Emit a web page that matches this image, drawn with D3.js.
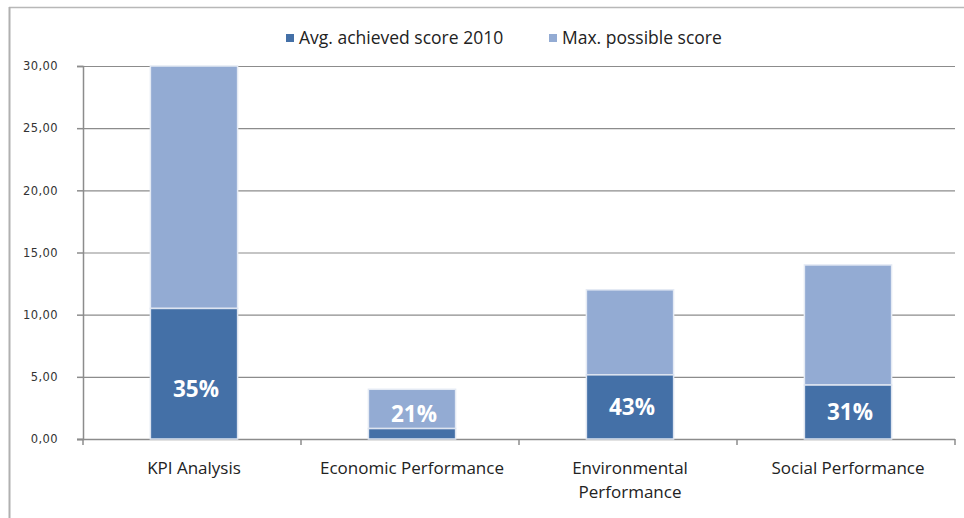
<!doctype html>
<html>
<head>
<meta charset="utf-8">
<script src="https://d3js.org/d3.v7.min.js"></script>
<style>
  body {margin: 0; background: #fff;}
  svg text {font-family: "Open Sans", "Noto Sans", sans-serif;}
</style>
</head>
<body>
<svg width="964" height="518"></svg>
<script>
// data
var categories = ["KPI Analysis", "Economic Performance", "Environmental Performance", "Social Performance"];
var achieved = [10.5, 0.84, 5.16, 4.34];
var maxScore = [30, 4, 12, 14];
var percents = ["35%", "21%", "43%", "31%"];
var yTicks = [0, 5, 10, 15, 20, 25, 30];
var seriesNames = ["Avg. achieved score 2010", "Max. possible score"];

var dark = "#4470a7", light = "#93abd3";
var svg = d3.select("svg");

// outer frame (top and left edges only visible)
svg.append("line").attr("x1", 9).attr("x2", 964).attr("y1", 7.5).attr("y2", 7.5)
   .attr("stroke", "#b8b8b8").attr("stroke-width", 1.5);
svg.append("line").attr("x1", 9.5).attr("x2", 9.5).attr("y1", 7).attr("y2", 518)
   .attr("stroke", "#b0b0b0").attr("stroke-width", 2);

var x = d3.scaleBand().domain(categories).range([85, 957]).paddingInner(0.6).paddingOuter(0.3);
var y = d3.scaleLinear().domain([0, 30]).range([439, 66]);

// gridlines
svg.append("g").selectAll("line").data(yTicks.slice(1)).enter().append("line")
   .attr("x1", 83).attr("x2", 955)
   .attr("y1", function(d) {return y(d) + 0.5}).attr("y2", function(d) {return y(d) + 0.5})
   .attr("stroke", "#8c8c8c").attr("stroke-width", 1.2);

// y axis
var yAxis = svg.append("g").attr("transform", "translate(83,0)")
   .call(d3.axisLeft(y).tickValues(yTicks).tickSize(6).tickPadding(19)
        .tickFormat(function(d) {return d3.format(".2f")(d).replace(".", ",")}));
yAxis.selectAll("path, line").attr("stroke", "#8c8c8c").attr("stroke-width", 1.5);
yAxis.selectAll("text").attr("fill", "#333")
   .style("font-family", "'DejaVu Sans', sans-serif").attr("font-size", 11.5)
   .attr("letter-spacing", 0.4);

// x axis with boundary ticks
var bounds = d3.range(categories.length + 1);
var step = (955 - 83) / categories.length;
svg.append("line").attr("x1", 77).attr("x2", 955).attr("y1", 439.5).attr("y2", 439.5)
   .attr("stroke", "#8c8c8c").attr("stroke-width", 1.5);
svg.append("g").selectAll("line").data(bounds).enter().append("line")
   .attr("x1", function(d) {return 83 + d * step}).attr("x2", function(d) {return 83 + d * step})
   .attr("y1", 439).attr("y2", 445)
   .attr("stroke", "#8c8c8c").attr("stroke-width", 1.5);

// category labels
var catLabels = svg.append("g").selectAll("text").data(categories).enter().append("text")
   .attr("text-anchor", "middle").attr("font-size", 17).attr("fill", "#222")
   .attr("transform", function(d) {return "translate(" + (x(d) + x.bandwidth() / 2) + ",474)"});
catLabels.each(function(d) {
  var lines = d === "Environmental Performance" ? ["Environmental", "Performance"] : [d];
  d3.select(this).selectAll("tspan").data(lines).enter().append("tspan")
    .attr("x", 0).attr("dy", function(l, i) {return i ? 24 : 0}).text(function(l) {return l});
});

// bars
var bars = svg.append("g").selectAll("g").data(categories).enter().append("g");
bars.append("rect")
   .attr("x", function(d) {return x(d)}).attr("width", x.bandwidth())
   .attr("y", function(d, i) {return y(maxScore[i])})
   .attr("height", function(d, i) {return y(achieved[i]) - y(maxScore[i])})
   .attr("fill", light).attr("stroke", "#e4eaf4").attr("stroke-width", 1.5);
bars.append("rect")
   .attr("x", function(d) {return x(d)}).attr("width", x.bandwidth())
   .attr("y", function(d, i) {return y(achieved[i])})
   .attr("height", function(d, i) {return y(0) - y(achieved[i])})
   .attr("fill", dark).attr("stroke", "#dde4f0").attr("stroke-width", 1.5);

// percentage labels
bars.append("text")
   .attr("x", function(d) {return x(d) + x.bandwidth() / 2 + 2})
   .attr("y", function(d, i) {
     var segH = y(0) - y(achieved[i]);
     var ly = segH < 30 ? (y(0) + y(maxScore[i])) / 2 : Math.max((y(0) + y(achieved[i])) / 2, y(0) - 50);
     return ly;
   })
   .attr("dy", "0.36em").attr("text-anchor", "middle")
   .attr("font-size", 22.5).attr("font-weight", "bold").attr("fill", "#fff")
   .text(function(d, i) {return percents[i]});

// legend
var legendX = [286, 549];
var legend = svg.append("g").selectAll("g").data(seriesNames).enter().append("g")
   .attr("transform", function(d, i) {return "translate(" + legendX[i] + ",38)"});
legend.append("rect").attr("x", 0).attr("y", -4).attr("width", 8).attr("height", 8)
   .attr("fill", function(d, i) {return i ? light : dark});
legend.append("text").attr("x", 13).attr("dy", "0.36em").attr("font-size", 17.5).attr("fill", "#222")
   .text(function(d) {return d});
</script>
</body>
</html>
